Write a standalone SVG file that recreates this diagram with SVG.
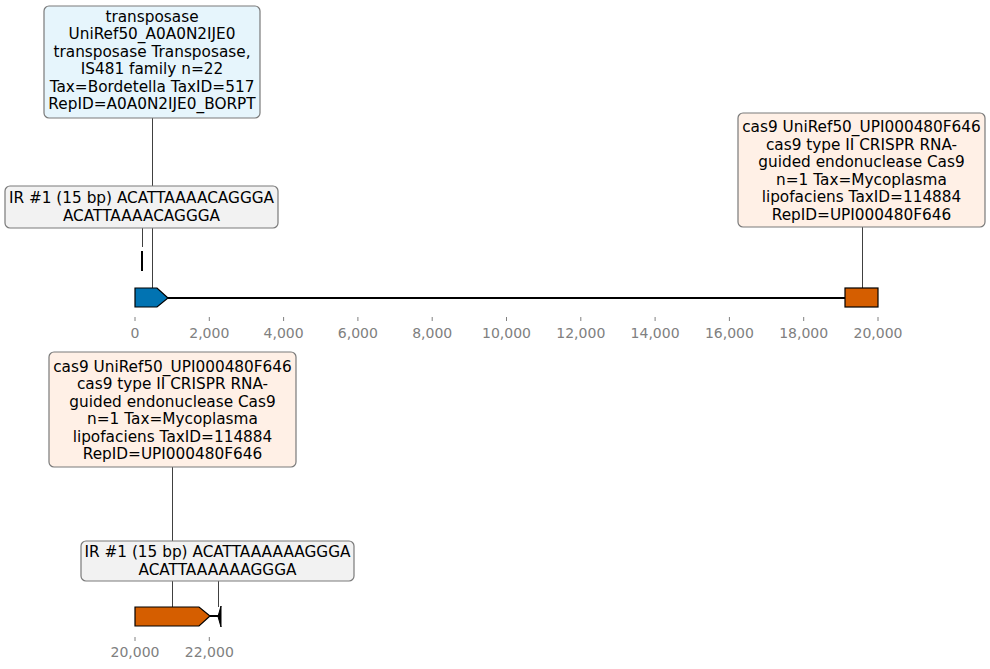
<svg xmlns="http://www.w3.org/2000/svg" width="990" height="669" viewBox="0 0 990 669">
<style>
text{font-family:"DejaVu Sans",sans-serif}
.lbl{font-size:15.3px;fill:#000;text-anchor:middle}
.tick{font-size:14px;fill:#808080;text-anchor:middle}
.box{stroke:#7a7a7a;stroke-width:1.2}
.lead{stroke:#404040;stroke-width:1;fill:none}
.tk{stroke:#808080;stroke-width:1}
.feat{stroke:#000;stroke-width:1.2}
</style>
<rect width="990" height="669" fill="#fff"/>
<g id="connectors">
<line class="lead" x1="152.5" y1="118" x2="152.5" y2="288"/>
<line class="lead" x1="142.5" y1="228" x2="142.5" y2="247"/>
<line class="lead" x1="862.5" y1="227" x2="862.5" y2="288"/>
<line class="lead" x1="172.5" y1="467" x2="172.5" y2="607"/>
<line class="lead" x1="218.5" y1="581" x2="218.5" y2="607"/>
</g>
<g id="track1">
<line x1="168" y1="298" x2="845" y2="298" stroke="#000" stroke-width="2"/>
<g class="tk">
<line x1="135" y1="317" x2="135" y2="321"/><line x1="209.3" y1="317" x2="209.3" y2="321"/><line x1="283.6" y1="317" x2="283.6" y2="321"/><line x1="357.9" y1="317" x2="357.9" y2="321"/><line x1="432.2" y1="317" x2="432.2" y2="321"/><line x1="506.5" y1="317" x2="506.5" y2="321"/><line x1="580.8" y1="317" x2="580.8" y2="321"/><line x1="655.1" y1="317" x2="655.1" y2="321"/><line x1="729.4" y1="317" x2="729.4" y2="321"/><line x1="803.7" y1="317" x2="803.7" y2="321"/><line x1="878" y1="317" x2="878" y2="321"/>
</g>
<text class="tick" x="135" y="337.5">0</text><text class="tick" x="209.3" y="337.5">2,000</text><text class="tick" x="283.6" y="337.5">4,000</text><text class="tick" x="357.9" y="337.5">6,000</text><text class="tick" x="432.2" y="337.5">8,000</text><text class="tick" x="506.5" y="337.5">10,000</text><text class="tick" x="580.8" y="337.5">12,000</text><text class="tick" x="655.1" y="337.5">14,000</text><text class="tick" x="729.4" y="337.5">16,000</text><text class="tick" x="803.7" y="337.5">18,000</text><text class="tick" x="878" y="337.5">20,000</text>
</g>
<g id="ir1_mark"><line x1="142" y1="251" x2="142" y2="271" stroke="#000" stroke-width="2"/></g>
<g id="transposase_feature"><polygon class="feat" fill="#0173b2" points="135,288 157,288 168,298 157,307 135,307"/></g>
<g id="cas9_feature_top"><rect class="feat" fill="#d55e00" x="845" y="288" width="33" height="19"/></g>
<g id="transposase_label">
<rect class="box" x="44" y="6" width="216" height="112" rx="5" fill="#e6f5fc"/>
<text class="lbl" x="152" y="21.5">transposase</text>
<text class="lbl" x="152" y="39">UniRef50_A0A0N2IJE0</text>
<text class="lbl" x="152" y="56.5">transposase Transposase,</text>
<text class="lbl" x="152" y="74">IS481 family n=22</text>
<text class="lbl" x="152" y="91.5">Tax=Bordetella TaxID=517</text>
<text class="lbl" x="152" y="109">RepID=A0A0N2IJE0_BORPT</text>
</g>
<g id="ir1_label">
<rect class="box" x="5" y="186" width="273" height="42" rx="5" fill="#f2f2f2"/>
<text class="lbl" x="141.5" y="202.5">IR #1 (15 bp) ACATTAAAACAGGGA</text>
<text class="lbl" x="141.5" y="220.5">ACATTAAAACAGGGA</text>
</g>
<g id="cas9_label_top">
<rect class="box" x="738" y="113" width="247" height="114" rx="5" fill="#fff0e6"/>
<text class="lbl" x="861.5" y="132">cas9 UniRef50_UPI000480F646</text>
<text class="lbl" x="861.5" y="149.5">cas9 type II CRISPR RNA-</text>
<text class="lbl" x="861.5" y="167">guided endonuclease Cas9</text>
<text class="lbl" x="861.5" y="184.5">n=1 Tax=Mycoplasma</text>
<text class="lbl" x="861.5" y="202">lipofaciens TaxID=114884</text>
<text class="lbl" x="861.5" y="219.5">RepID=UPI000480F646</text>
</g>
<g id="track2">
<line x1="210" y1="616" x2="219" y2="616" stroke="#000" stroke-width="2"/>
<g class="tk"><line x1="135" y1="637" x2="135" y2="641"/><line x1="209.3" y1="637" x2="209.3" y2="641"/></g>
<text class="tick" x="135" y="656.5">20,000</text><text class="tick" x="209.3" y="656.5">22,000</text>
</g>
<g id="cas9_feature_bottom"><polygon class="feat" fill="#d55e00" points="135,607 199,607 210,616 199,626 135,626"/></g>
<g id="ir2_mark"><polygon fill="#000" stroke="#000" stroke-width="1" points="221,606 221,627 218,616.5"/></g>
<g id="cas9_label_bottom">
<rect class="box" x="49" y="352" width="247" height="115" rx="5" fill="#fff0e6"/>
<text class="lbl" x="172.5" y="371.5">cas9 UniRef50_UPI000480F646</text>
<text class="lbl" x="172.5" y="389">cas9 type II CRISPR RNA-</text>
<text class="lbl" x="172.5" y="406.5">guided endonuclease Cas9</text>
<text class="lbl" x="172.5" y="424">n=1 Tax=Mycoplasma</text>
<text class="lbl" x="172.5" y="441.5">lipofaciens TaxID=114884</text>
<text class="lbl" x="172.5" y="459">RepID=UPI000480F646</text>
</g>
<g id="ir2_label">
<rect class="box" x="81" y="541" width="273" height="40" rx="5" fill="#f2f2f2"/>
<text class="lbl" x="217.5" y="556.5">IR #1 (15 bp) ACATTAAAAAAGGGA</text>
<text class="lbl" x="217.5" y="574.5">ACATTAAAAAAGGGA</text>
</g>
</svg>
